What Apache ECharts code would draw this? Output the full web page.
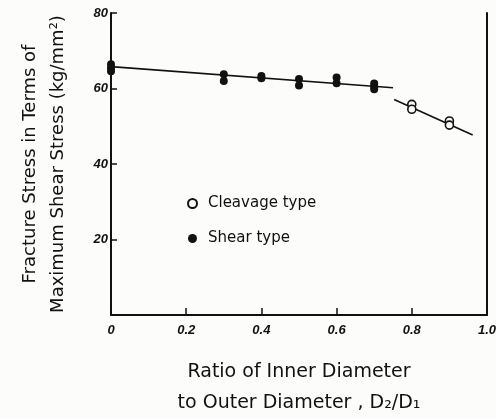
<!DOCTYPE html>
<html>
<head>
<meta charset="utf-8">
<script src="https://cdn.jsdelivr.net/npm/echarts@6/dist/echarts.min.js"></script>
<style>
  html, body { margin: 0; padding: 0; background: #fcfcfa; }
  #chart { width: 496px; height: 419px; }
</style>
</head>
<body>
<div id="chart"></div>
<script>
// Fracture stress of hollow specimens vs. diameter ratio D2/D1
const xTicks = [0, 0.2, 0.4, 0.6, 0.8, 1.0];
const xTickLabels = ['0', '0.2', '0.4', '0.6', '0.8', '1.0'];
const yTickLabels = ['', '20', '40', '60', '80'];

// Shear-type fractures (filled circles)
const shearX = [0, 0, 0, 0.3, 0.3, 0.4, 0.4, 0.5, 0.5, 0.6, 0.6, 0.7, 0.7, 0.7];
const shearY = [66.4, 65.4, 64.6, 63.8, 62.0, 63.3, 62.7, 62.5, 60.8, 62.9, 61.4, 61.3, 60.5, 59.8];

// Cleavage-type fractures (open circles)
const cleavageX = [0.8, 0.8, 0.9, 0.9];
const cleavageY = [55.8, 54.5, 51.4, 50.3];

// Fitted trend lines
const shearFitX = [0, 0.75];
const shearFitY = [65.8, 60.2];
const cleavageFitX = [0.753, 0.962];
const cleavageFitY = [57.1, 47.7];

const zip = (xs, ys) => xs.map((x, i) => [x, ys[i]]);

const ink = '#111';
const paper = '#fcfcfa';
const handFont = '"DejaVu Sans", sans-serif';
const tickFont = '"Liberation Sans", Arial, sans-serif';

const chart = echarts.init(document.getElementById('chart'), null, { renderer: 'canvas' });

chart.setOption({
  backgroundColor: paper,
  animation: false,
  grid: { left: 111, right: 9, top: 13, bottom: 104, show: false, containLabel: false, outerBoundsMode: 'none' },
  legend: {
    orient: 'vertical',
    left: 182,
    top: 191,
    itemWidth: 9,
    itemHeight: 9,
    itemGap: 20,
    icon: 'circle',
    textStyle: { fontFamily: handFont, fontSize: 15, color: ink, padding: [0, 0, 0, 6] },
    data: ['Cleavage type', 'Shear type']
  },
  xAxis: {
    type: 'value',
    min: 0, max: 1, interval: 0.2,
    name: 'Ratio of Inner Diameter\nto Outer Diameter , D\u2082/D\u2081',
    nameLocation: 'middle',
    nameGap: 42,
    nameTextStyle: { fontFamily: handFont, fontSize: 19, color: ink, lineHeight: 31 },
    axisLine: { show: true, lineStyle: { color: ink, width: 2 } },
    axisTick: { show: true, inside: true, length: 7, lineStyle: { color: ink, width: 1.5 } },
    axisLabel: {
      color: ink, fontFamily: tickFont, fontStyle: 'italic', fontWeight: 'bold', fontSize: 13, margin: 9,
      formatter: v => xTickLabels[xTicks.findIndex(t => Math.abs(t - v) < 1e-6)]
    },
    splitLine: { show: false }
  },
  yAxis: [{
    type: 'value',
    min: 0, max: 80, interval: 20,
    name: 'Fracture Stress in Terms of\nMaximum Shear Stress (kg/mm\u00b2)',
    nameLocation: 'middle',
    nameRotate: 90,
    nameGap: 39,
    nameTextStyle: { fontFamily: handFont, fontSize: 18, color: ink, lineHeight: 28 },
    axisLine: { show: true, lineStyle: { color: ink, width: 2 } },
    axisTick: { show: true, inside: true, length: 6, lineStyle: { color: ink, width: 1.5 } },
    axisLabel: {
      color: ink, fontFamily: tickFont, fontStyle: 'italic', fontWeight: 'bold', fontSize: 13, margin: 3,
      formatter: v => yTickLabels[Math.round(v / 20)]
    },
    splitLine: { show: false }
  }, {
    type: 'value',
    position: 'right',
    min: 0, max: 80, interval: 20,
    axisLine: { show: true, lineStyle: { color: ink, width: 2 } },
    axisTick: { show: false },
    axisLabel: { show: false },
    splitLine: { show: false }
  }],
  series: [
    {
      name: 'Shear fit',
      type: 'line',
      data: zip(shearFitX, shearFitY),
      symbol: 'none',
      lineStyle: { color: ink, width: 1.6 },
      z: 2
    },
    {
      name: 'Cleavage fit',
      type: 'line',
      data: zip(cleavageFitX, cleavageFitY),
      symbol: 'none',
      lineStyle: { color: ink, width: 1.6 },
      z: 2
    },
    {
      name: 'Cleavage type',
      type: 'scatter',
      data: zip(cleavageX, cleavageY),
      symbol: 'circle',
      symbolSize: 8,
      itemStyle: { color: paper, borderColor: ink, borderWidth: 1.6, opacity: 1 },
      z: 3
    },
    {
      name: 'Shear type',
      type: 'scatter',
      data: zip(shearX, shearY),
      symbol: 'circle',
      symbolSize: 8,
      itemStyle: { color: ink, opacity: 1 },
      z: 3
    }
  ]
});
</script>
</body>
</html>
